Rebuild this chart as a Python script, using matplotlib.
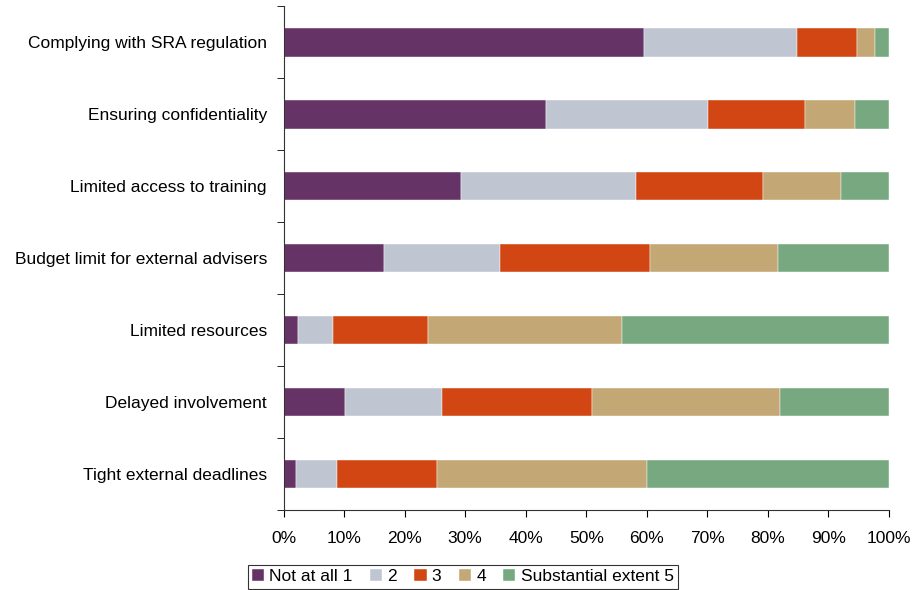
import numpy as np
import matplotlib
matplotlib.use("Agg")
import matplotlib.pyplot as plt
from matplotlib.ticker import PercentFormatter, FixedLocator

plt.rcParams['font.family'] = ['Liberation Sans', 'DejaVu Sans']

categories = ['Complying with SRA regulation', 'Ensuring confidentiality',
              'Limited access to training', 'Budget limit for external advisers',
              'Limited resources', 'Delayed involvement', 'Tight external deadlines']
series_names = ['Not at all 1', '2', '3', '4', 'Substantial extent 5']
not_at_all = [59.5, 43.3, 29.3, 16.5, 2.3, 10.2, 2.1]
level2 = [25.3, 26.9, 28.9, 19.2, 5.8, 15.9, 6.7]
level3 = [9.9, 15.9, 21.0, 24.8, 15.7, 24.8, 16.5]
level4 = [3.0, 8.3, 12.9, 21.2, 32.1, 31.1, 34.7]
substantial = [2.3, 5.6, 7.9, 18.3, 44.1, 18.0, 40.0]
colors = ['#663366', '#BFC5D1', '#D24614', '#C3A774', '#77A880']

data = [not_at_all, level2, level3, level4, substantial]

fig = plt.figure(figsize=(9.15, 5.90), dpi=100)
ax = fig.add_axes([0.310, 0.1356, 0.6614, 0.854])

y = np.arange(len(categories))
left = np.zeros(len(categories))
for vals, name, col in zip(data, series_names, colors):
    ax.barh(y, vals, left=left, height=0.4, color=col, label=name,
            edgecolor='white', linewidth=0.3)
    left += np.array(vals)

ax.set_ylim(len(categories) - 0.5, -0.5)
ax.set_xlim(0, 100)
ax.set_yticks(y)
ax.set_yticklabels(categories, fontsize=12.5)
ax.tick_params(axis='y', length=0, pad=12)
ax.yaxis.set_minor_locator(FixedLocator(np.arange(-0.5, len(categories), 1)))
ax.tick_params(axis='y', which='minor', length=5, direction='out')
ax.set_xticks(np.arange(0, 101, 10))
ax.xaxis.set_major_formatter(PercentFormatter(decimals=0))
ax.tick_params(axis='x', length=5, direction='out', labelsize=12.5, pad=10)

for s in ['top', 'right']:
    ax.spines[s].set_visible(False)
ax.spines['left'].set_color('#333333')
ax.spines['bottom'].set_color('#333333')

leg = ax.legend(loc='upper center', bbox_to_anchor=(0.296, -0.109), ncol=5,
                frameon=True, fancybox=False, edgecolor='black', fontsize=12.5,
                handlelength=0.7, handleheight=0.7, handletextpad=0.3,
                columnspacing=1.0, borderpad=0.25, borderaxespad=0)
leg.get_frame().set_linewidth(0.8)

fig.savefig('out.png', dpi=100)
